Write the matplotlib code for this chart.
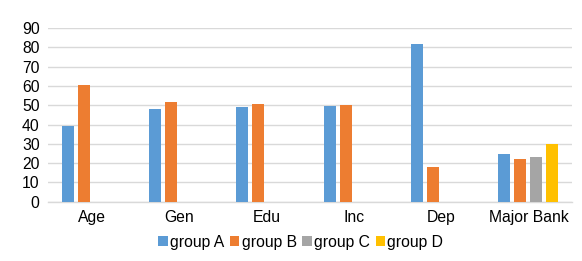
import matplotlib.pyplot as plt
import numpy as np

plt.rcParams['font.family'] = ['Liberation Sans', 'DejaVu Sans']

categories = ["Age", "Gen", "Edu", "Inc", "Dep", "Major Bank"]
series_names = ["group A", "group B", "group C", "group D"]
group_a = [39.5, 48.2, 49.0, 49.7, 81.8, 24.8]
group_b = [60.5, 51.6, 50.7, 50.3, 18.2, 22.3]
group_c = [0, 0, 0, 0, 0, 23.4]
group_d = [0, 0, 0, 0, 0, 29.8]
colors = ["#5B9BD5", "#ED7D31", "#A5A5A5", "#FFC000"]

fig = plt.figure(figsize=(5.82, 2.61), dpi=100)
ax = fig.add_axes([0.0825, 0.227, 0.9005, 0.665])

x = np.arange(len(categories))
step = 0.183
width = 0.137
for i, (vals, name) in enumerate(zip([group_a, group_b, group_c, group_d], series_names)):
    ax.bar(x + (i - 1.5) * step, vals, width, color=colors[i], label=name, zorder=3)

ax.set_xlim(-0.5, len(categories) - 0.5)
ax.set_ylim(0, 90)
ax.set_yticks(range(0, 91, 10))
ax.set_xticks(x)
ax.set_xticklabels(categories)
ax.grid(axis='y', color='#D9D9D9', linewidth=1, zorder=0)
for s in ['top', 'right', 'left']:
    ax.spines[s].set_visible(False)
ax.spines['bottom'].set_color('#D9D9D9')
ax.spines['bottom'].set_linewidth(1)
ax.tick_params(length=0, labelsize=11.3, colors='black')
ax.tick_params(axis='x', pad=6)
ax.tick_params(axis='y', pad=6)

fig.legend(loc='center', bbox_to_anchor=(0.517, 0.072), ncol=4, frameon=False,
           fontsize=11.3, handlelength=0.6, handleheight=0.6, handletextpad=0.15,
           columnspacing=0.35, borderaxespad=0)

fig.savefig("out.png", dpi=100)
